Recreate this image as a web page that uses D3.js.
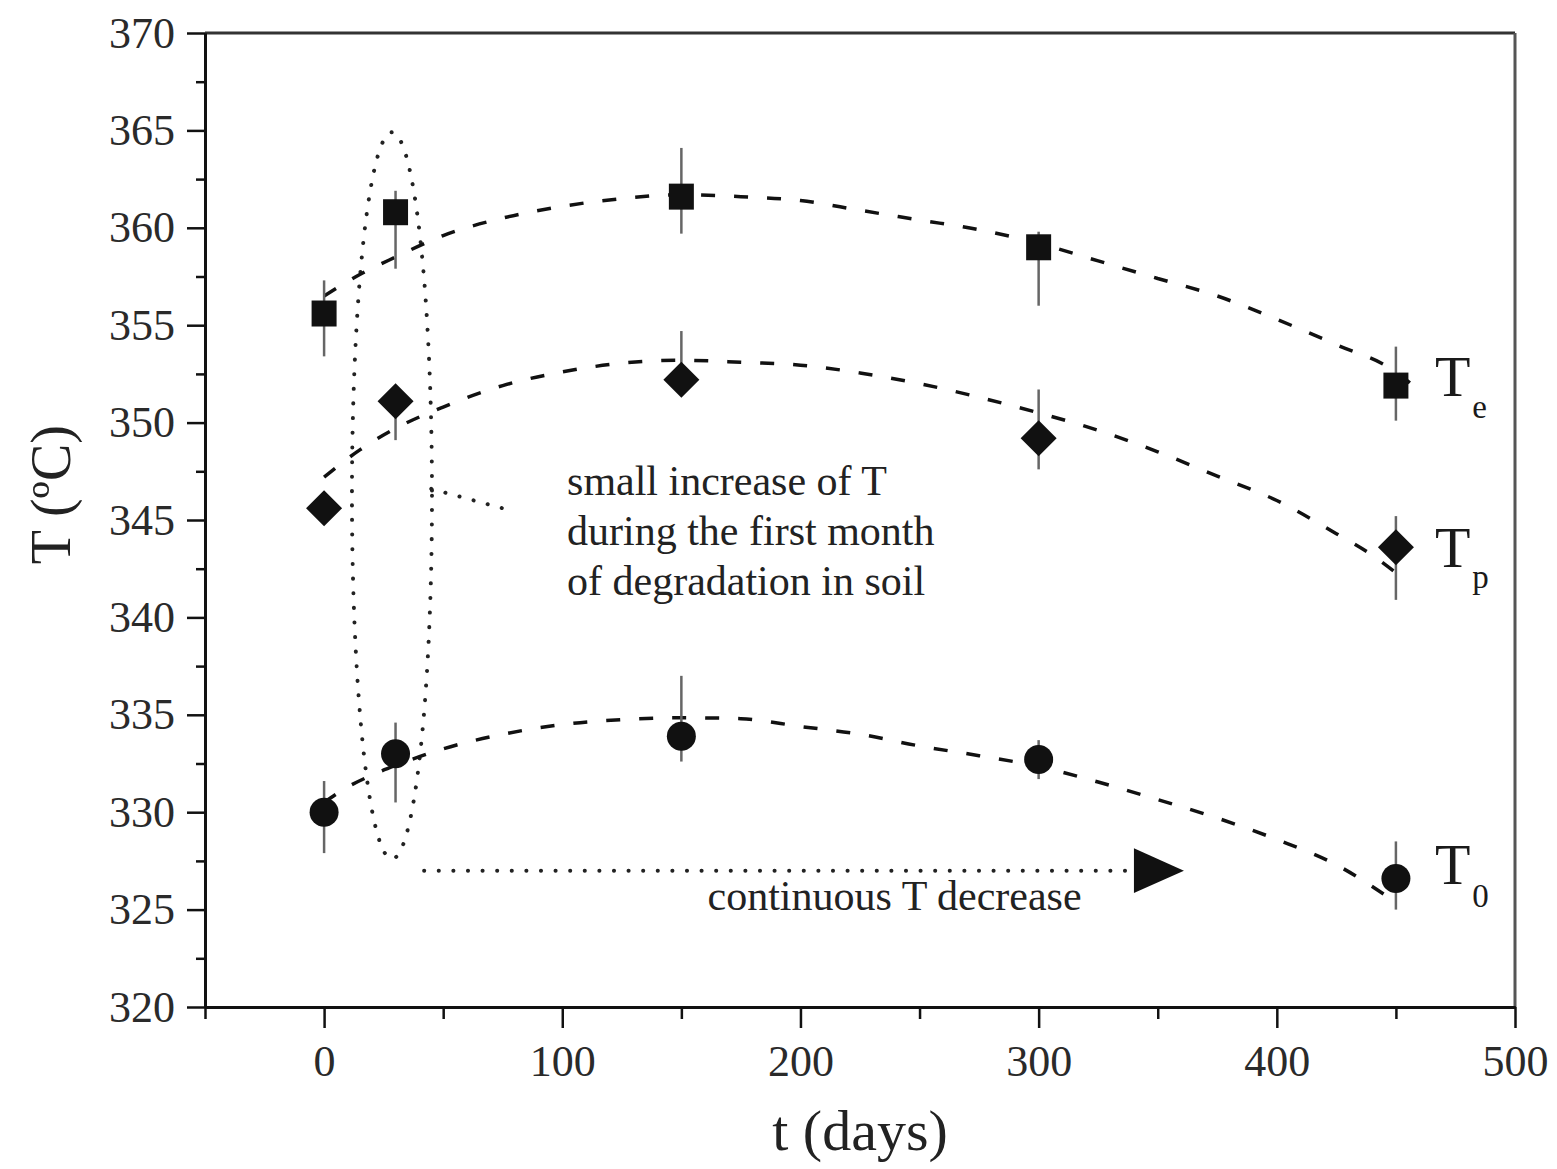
<!DOCTYPE html>
<html>
<head>
<meta charset="utf-8">
<script src="https://cdn.jsdelivr.net/npm/d3@7"></script>
<style>
body { margin: 0; background: #fff; }
svg { display: block; font-family: 'Liberation Serif', 'Times New Roman', serif; }
</style>
</head>
<body>
<div class="main"></div>
<script>
const width = 1557;
const height = 1169;
const margin = ({top: 33, right: 42, bottom: 162, left: 205})

// measured points (days of degradation in soil)
const days = [0, 30, 150, 300, 450];

// T_e, squares
const te = [355.6, 360.8, 361.6, 359.0, 351.9];
const teLow = [353.4, 357.9, 359.7, 356.0, 350.1];
const teHigh = [357.3, 361.9, 364.1, 359.8, 353.9];

// T_p, diamonds
const tp = [345.6, 351.1, 352.2, 349.2, 343.6];
const tpLow = [344.9, 349.1, 351.4, 347.6, 340.9];
const tpHigh = [346.4, 351.9, 354.7, 351.7, 345.2];

// T_0, circles
const t0 = [330.0, 333.0, 333.9, 332.7, 326.6];
const t0Low = [327.9, 330.5, 332.6, 331.7, 325.0];
const t0High = [331.6, 334.6, 337.0, 333.7, 328.5];

// dashed trend curves
const teFitDays = [0, 15, 30, 50, 75, 100, 125, 150, 175, 200, 225, 250, 275, 300, 325, 350, 375, 400, 425, 450, 460];
const teFit = [356.5, 357.6, 358.5, 359.6, 360.5, 361.1, 361.5, 361.7, 361.6, 361.4, 360.9, 360.4, 359.9, 359.2, 358.3, 357.4, 356.5, 355.3, 354.0, 352.6, 351.6];
const tpFitDays = [0, 15, 30, 50, 75, 100, 125, 150, 175, 200, 225, 250, 275, 300, 325, 350, 375, 400, 425, 440, 454];
const tpFit = [347.2, 348.6, 349.7, 350.8, 351.9, 352.6, 353.05, 353.2, 353.1, 352.95, 352.55, 352.0, 351.3, 350.5, 349.6, 348.5, 347.25, 346.0, 344.3, 343.2, 341.9];
const t0FitDays = [0, 10, 20, 30, 40, 50, 75, 100, 125, 150, 175, 200, 225, 250, 275, 300, 325, 350, 375, 400, 425, 446];
const t0Fit = [330.5, 331.3, 331.9, 332.4, 332.85, 333.25, 334.0, 334.5, 334.75, 334.85, 334.8, 334.4, 334.0, 333.4, 332.9, 332.35, 331.55, 330.65, 329.7, 328.6, 327.3, 325.7];

// ticks
const yTicks = [320, 325, 330, 335, 340, 345, 350, 355, 360, 365, 370];
const yMinor = [322.5, 327.5, 332.5, 337.5, 342.5, 347.5, 352.5, 357.5, 362.5, 367.5];
const xTicks = [0, 100, 200, 300, 400, 500];
const xMinor = [-50, 50, 150, 250, 350, 450];

// annotations (data units)
const ellipseCenter = [28.5, 346.25];
const ellipseRadius = [16.8, 18.65];
const leader = [[45, 346.6], [75, 345.6]];
const arrowLine = [[42, 327.0], [338, 327.0]];
const arrowHead = [[340, 328.15], [361, 327.0], [340, 325.85]];
const noteLines = ['small increase of T', 'during the first month', 'of degradation in soil'];
const notePos = [102, 346.3];
const decreaseText = 'continuous T decrease';
const decreasePos = [161, 325.0];

const svg = d3.select('.main')
  .append('svg')
  .attr('width', width)
  .attr('height', height);

const x = d3.scaleLinear()
  .domain([-50, 500])
  .range([margin.left, width - margin.right]);

const y = d3.scaleLinear()
  .domain([320, 370])
  .range([height - margin.bottom, margin.top]);

const ink = '#111';

// frame top and right
svg.append('line')
  .attr('x1', x(-50)).attr('x2', x(500))
  .attr('y1', y(370)).attr('y2', y(370))
  .attr('stroke', '#333').attr('stroke-width', 3);
svg.append('line')
  .attr('x1', x(500)).attr('x2', x(500))
  .attr('y1', y(370)).attr('y2', y(320))
  .attr('stroke', '#555').attr('stroke-width', 3);

// axes
svg.append('g')
  .attr('transform', `translate(${x(-50)},0)`)
  .call(d3.axisLeft(y).tickValues(yTicks).tickSize(18).tickSizeOuter(0).tickPadding(12).tickFormat(d3.format('d')));
svg.append('g')
  .attr('transform', `translate(${x(-50)},0)`)
  .call(d3.axisLeft(y).tickValues(yMinor).tickSize(9).tickSizeOuter(0).tickFormat(''));

svg.append('g')
  .attr('transform', `translate(0,${y(320)})`)
  .call(d3.axisBottom(x).tickValues(xTicks).tickSize(21).tickSizeOuter(0).tickPadding(17).tickFormat(d3.format('d')));
svg.append('g')
  .attr('transform', `translate(0,${y(320)})`)
  .call(d3.axisBottom(x).tickValues(xMinor).tickSize(12).tickSizeOuter(0).tickFormat(''));

svg.selectAll('.domain').attr('stroke', ink).attr('stroke-width', 3);
svg.selectAll('.tick line').attr('stroke', ink).attr('stroke-width', 2.5);
svg.selectAll('.tick text')
  .attr('fill', '#2a2a2a')
  .style('font-size', '44px')
  .style('font-family', "'Liberation Serif', serif");

// axis titles
svg.append('text')
  .attr('transform', `translate(70,${y(346.3)}) rotate(-90)`)
  .attr('text-anchor', 'middle')
  .attr('fill', '#222')
  .style('font-size', '56px')
  .text('T (ºC)');

svg.append('text')
  .attr('x', (x(-50) + x(500)) / 2)
  .attr('y', 1150)
  .attr('text-anchor', 'middle')
  .attr('fill', '#222')
  .style('font-size', '58px')
  .text('t (days)');

// dotted annotations
const dotted = g => g.attr('fill', 'none')
  .attr('stroke', '#222')
  .attr('stroke-width', 4)
  .attr('stroke-linecap', 'round')
  .attr('stroke-dasharray', '0.1,14.5');

svg.append('ellipse')
  .attr('cx', x(ellipseCenter[0]))
  .attr('cy', y(ellipseCenter[1]))
  .attr('rx', x(ellipseCenter[0] + ellipseRadius[0]) - x(ellipseCenter[0]))
  .attr('ry', y(ellipseCenter[1] - ellipseRadius[1]) - y(ellipseCenter[1]))
  .call(dotted);

const straight = d3.line().x(d => x(d[0])).y(d => y(d[1]));

svg.append('path').attr('d', straight(leader)).call(dotted);
svg.append('path').attr('d', straight(arrowLine)).call(dotted);
svg.append('path')
  .attr('d', straight(arrowHead) + 'Z')
  .attr('fill', ink);

// notes
svg.append('g')
  .attr('fill', '#222')
  .style('font-size', '42px')
  .selectAll('text')
  .data(noteLines)
  .enter()
  .append('text')
  .attr('x', x(notePos[0]))
  .attr('y', (d, i) => y(notePos[1]) + i * 50)
  .text(d => d);

svg.append('text')
  .attr('x', x(decreasePos[0]))
  .attr('y', y(decreasePos[1]))
  .attr('fill', '#222')
  .style('font-size', '42px')
  .text(decreaseText);

// dashed trend curves
const fitLine = d3.line()
  .x(d => x(d[0]))
  .y(d => y(d[1]))
  .curve(d3.curveMonotoneX);

const fits = [
  d3.zip(teFitDays, teFit),
  d3.zip(tpFitDays, tpFit),
  d3.zip(t0FitDays, t0Fit)
];

svg.append('g')
  .selectAll('path')
  .data(fits)
  .enter()
  .append('path')
  .attr('d', fitLine)
  .attr('fill', 'none')
  .attr('stroke', ink)
  .attr('stroke-width', 3.5)
  .attr('stroke-dasharray', '14,19');

// series with error bars and markers
const series = [
  {name: 'e', values: te, low: teLow, high: teHigh, shape: 'square'},
  {name: 'p', values: tp, low: tpLow, high: tpHigh, shape: 'diamond'},
  {name: '0', values: t0, low: t0Low, high: t0High, shape: 'circle'}
];

const shapes = {
  square: 'M-12.5,-13 L12.5,-13 L12.5,13 L-12.5,13 Z',
  diamond: 'M0,-18 L18,0 L0,18 L-18,0 Z',
  circle: d3.symbol(d3.symbolCircle, Math.PI * 14.5 * 14.5)()
};

series.forEach(s => {
  const pts = days.map((d, i) => ({t: d, v: s.values[i], lo: s.low[i], hi: s.high[i]}));

  svg.append('g')
    .selectAll('line')
    .data(pts)
    .enter()
    .append('line')
    .attr('x1', d => x(d.t))
    .attr('x2', d => x(d.t))
    .attr('y1', d => y(d.lo))
    .attr('y2', d => y(d.hi))
    .attr('stroke', '#666')
    .attr('stroke-width', 2.5);

  svg.append('g')
    .selectAll('path')
    .data(pts)
    .enter()
    .append('path')
    .attr('transform', d => `translate(${x(d.t)},${y(d.v)})`)
    .attr('d', shapes[s.shape])
    .attr('fill', ink);
});

// series labels T_e, T_p, T_0
const labelY = [351.35, 342.6, 326.3];
const labelSub = [22, 21, 23];
series.forEach((s, i) => {
  const lab = svg.append('text')
    .attr('x', x(450) + 39)
    .attr('y', y(labelY[i]))
    .attr('fill', '#1a1a1a')
    .style('font-size', '58px');
  lab.append('tspan').text('T');
  lab.append('tspan')
    .attr('dx', 2)
    .attr('dy', labelSub[i])
    .style('font-size', '33px')
    .text(s.name);
});
</script>
</body>
</html>
